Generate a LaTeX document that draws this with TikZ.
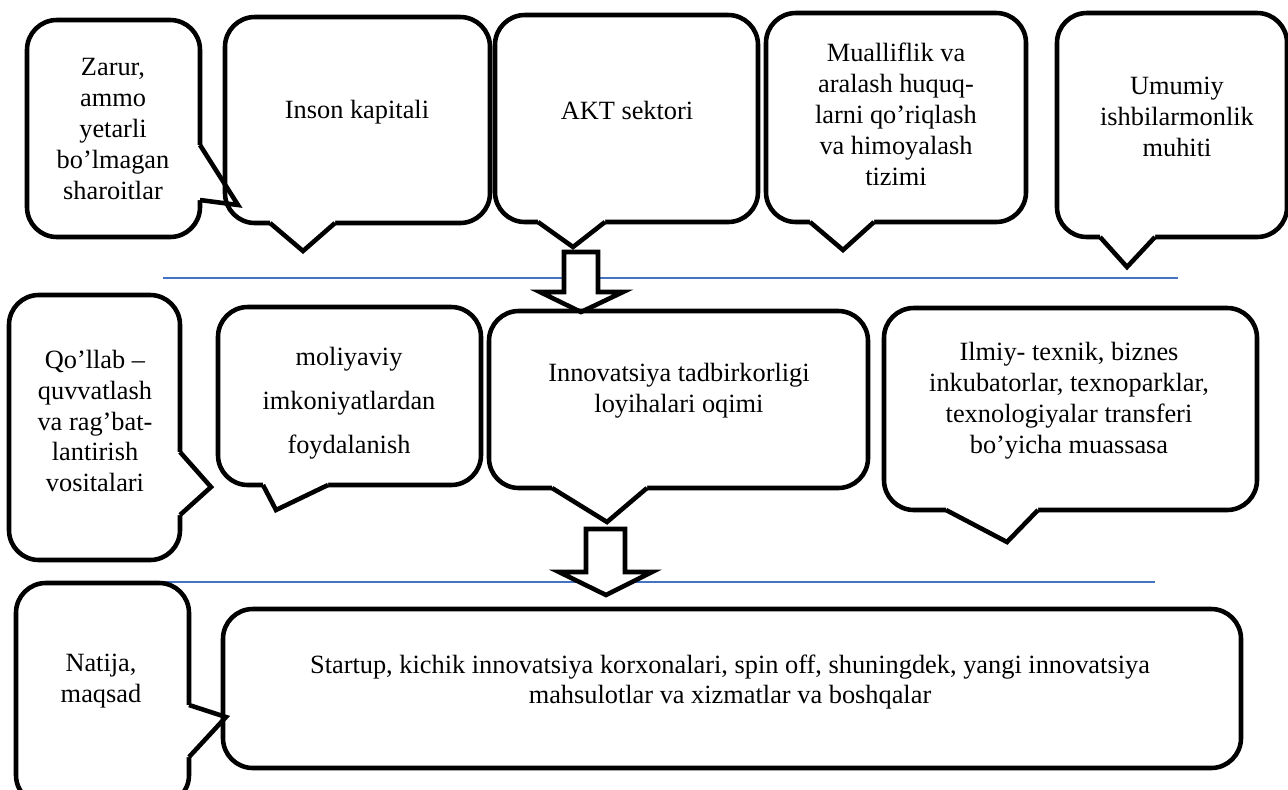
\documentclass[tikz,border=0pt]{standalone}
\usepackage{fontspec}
\setmainfont{Liberation Serif}
\definecolor{ruleblue}{HTML}{4472C4}
\tikzset{
  bubble/.style={line width=2.6pt, rounded corners=17pt},
  tail/.style={line width=2.6pt, line join=miter},
  hollow/.style={draw, line width=2.6pt, fill=white, line join=miter},
  sep/.style={ruleblue, line width=1.1pt},
  txt/.style={align=center, inner sep=0pt, font=\fontsize{15}{17.6}\selectfont}
}

\begin{document}
\begin{tikzpicture}[x=0.02cm, y=-0.02cm]
  \useasboundingbox (0,0) rectangle (1288,789);

  \draw[sep] (163,278) -- (1178,278);
  \draw[sep] (149,582) -- (1155,582);

  % top row
  \draw[bubble] (27,20) rectangle (200,237);
  \fill[white] (195,145) -- (200,145) -- (238,205) -- (200,200) -- (195,200) -- cycle;
  \draw[tail] (200,145) -- (238,205) -- (200,200);
  \node[txt] (zarur) at (113,129) {Zarur,\\ammo\\yetarli\\bo’lmagan\\sharoitlar};

  \draw[bubble] (225,17) rectangle (490,223);
  \fill[white] (270,218) -- (270,223) -- (303,251) -- (335,223) -- (335,218) -- cycle;
  \draw[tail] (270,223) -- (303,251) -- (335,223);
  \node[txt] (inson) at (357,112) {Inson kapitali};

  \draw[bubble] (495,15) rectangle (758,222);
  \fill[white] (538,217) -- (538,222) -- (573,247) -- (605,222) -- (605,217) -- cycle;
  \draw[tail] (538,222) -- (573,247) -- (605,222);
  \node[txt] (akt) at (627,110) {AKT sektori};

  \draw[bubble] (766,13) rectangle (1026,222);
  \fill[white] (810,217) -- (810,222) -- (843,250) -- (874,222) -- (874,217) -- cycle;
  \draw[tail] (810,222) -- (843,250) -- (874,222);
  \node[txt] (huquq) at (896,114) {Mualliflik va\\aralash huquq-\\larni qo’riqlash\\va himoyalash\\tizimi};

  \draw[bubble] (1057,13) rectangle (1287,237);
  \fill[white] (1100,232) -- (1100,237) -- (1127,267) -- (1155,237) -- (1155,232) -- cycle;
  \draw[tail] (1100,237) -- (1127,267) -- (1155,237);
  \node[txt] (muhit) at (1177,117) {Umumiy\\ishbilarmonlik\\muhiti};

  \draw[hollow] (564,252) -- (598,252) -- (598,292) -- (623,292) -- (581,312) -- (540,292) -- (564,292) -- cycle;

  % middle row
  \draw[bubble] (9,295) rectangle (180,560);
  \fill[white] (175,452) -- (180,452) -- (211,487) -- (180,515) -- (175,515) -- cycle;
  \draw[tail] (180,452) -- (211,487) -- (180,515);
  \node[txt] (vosita) at (95,421) {Qo’llab –\\quvvatlash\\va rag’bat-\\lantirish\\vositalari};

  \draw[bubble] (218,307) rectangle (481,485);
  \fill[white] (263,480) -- (263,485) -- (276,510) -- (328,485) -- (328,480) -- cycle;
  \draw[tail] (263,485) -- (276,510) -- (328,485);
  \node[txt, font=\fontsize{15}{25}\selectfont] (moliya) at (349,403) {moliyaviy\\imkoniyatlardan\\foydalanish};

  \draw[bubble] (489,311) rectangle (868,488);
  \fill[white] (552,483) -- (552,488) -- (607,522) -- (647,488) -- (647,483) -- cycle;
  \draw[tail] (552,488) -- (607,522) -- (647,488);
  \node[txt] (oqim) at (679,391) {Innovatsiya tadbirkorligi\\loyihalari oqimi};

  \draw[bubble] (884,308) rectangle (1257,510);
  \fill[white] (946,505) -- (946,510) -- (1007,542) -- (1038,510) -- (1038,505) -- cycle;
  \draw[tail] (946,510) -- (1007,542) -- (1038,510);
  \node[txt] (muassasa) at (1069,401) {Ilmiy- texnik, biznes\\inkubatorlar, texnoparklar,\\texnologiyalar transferi\\bo’yicha muassasa};

  \draw[hollow] (586,529) -- (625,529) -- (625,572) -- (652,572) -- (606,595) -- (559,572) -- (586,572) -- cycle;

  % bottom row
  \draw[bubble] (16,583) rectangle (189,805);
  \fill[white] (184,705) -- (189,705) -- (226,717) -- (189,757) -- (184,757) -- cycle;
  \draw[tail] (189,705) -- (226,717) -- (189,757);
  \node[txt] (natija) at (101,681) {Natija,\\maqsad};

  \draw[bubble] (223,609) rectangle (1241,768);
  \node[txt] (startup) at (730,682) {Startup, kichik innovatsiya korxonalari, spin off, shuningdek, yangi innovatsiya\\mahsulotlar va xizmatlar va boshqalar};
\end{tikzpicture}
\end{document}
